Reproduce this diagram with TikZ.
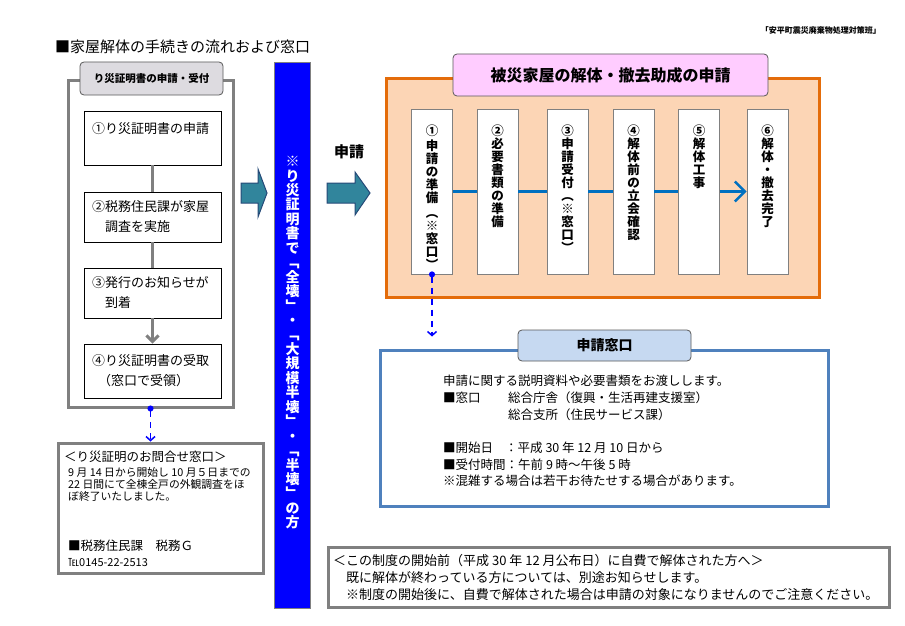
\documentclass[tikz,border=0pt]{standalone}
\usepackage{fontspec}
\setmainfont{Noto Sans CJK JP}
\usetikzlibrary{arrows.meta,positioning}
\definecolor{FrameClr}{RGB}{128,128,128}
\definecolor{HeadClr}{RGB}{221,219,224}
\definecolor{TealClr}{RGB}{49,133,156}
\definecolor{NavyClr}{RGB}{38,74,120}
\definecolor{BarClr}{RGB}{0,0,255}
\definecolor{OrangeClr}{RGB}{228,108,10}
\definecolor{PeachClr}{RGB}{252,213,181}
\definecolor{PinkClr}{RGB}{255,204,255}
\definecolor{StepLineClr}{RGB}{0,112,192}
\definecolor{WindowClr}{RGB}{79,129,189}
\definecolor{WinHeadClr}{RGB}{198,217,241}
\newcommand{\fsize}[2]{\fontsize{#1}{#2}\selectfont}

\begin{document}
\begin{tikzpicture}[x=1pt,y=-1pt,
  grayframe/.style={draw=FrameClr,line width=3pt,inner sep=0pt},
  headbox/.style={draw=black!65,rounded corners=4pt,line width=0.8pt},
  leftbox/.style={draw=black,line width=0.8pt,minimum width=137pt,text width=121pt,align=left,font=\fsize{13}{20}},
  stepbox/.style={draw=FrameClr,fill=white,line width=0.8pt,minimum width=41pt,minimum height=165pt},
  steptext/.style={align=center,inner sep=0pt,font=\bfseries\fsize{12.5}{13}},
  textline/.style={anchor=west,inner sep=0pt,align=left},
  greyline/.style={draw=FrameClr,line width=3pt},
  blueline/.style={draw=StepLineClr,line width=2.5pt},
  dashline/.style={draw=BarClr,line width=1.5pt,dash pattern=on 6pt off 5pt,shorten <=-3pt,
    {Circle[length=6pt]}-{Straight Barb[length=4pt,width=9pt]}},
  blockarrow/.style={fill=TealClr,draw=NavyClr,line width=1pt,line join=miter}]
\useasboundingbox (0,0) rectangle (905,626);

\node[textline,font=\fsize{15}{17}] (title) at (55,47) {■家屋解体の手続きの流れおよび窓口};
\node[anchor=east,inner sep=0pt,font=\bfseries\fsize{8}{9}] (team) at (881,30) {「安平町震災廃棄物処理対策班」};

% left column
\node[grayframe,minimum width=165pt,minimum height=326pt] (leftframe) at (150.5,244) {};
\node[headbox,fill=HeadClr,minimum width=143pt,minimum height=33pt,font=\bfseries\fsize{10.5}{12}] (lefthead) at (151.5,78.5) {り災証明書の申請・受付};

\node[leftbox,minimum height=54pt] (b1) at (152.5,138) {①り災証明書の申請\\\mbox{}};
\node[leftbox,minimum height=50pt] (b2) at (152.5,217) {②税務住民課が家屋\\　調査を実施};
\node[leftbox,minimum height=50pt] (b3) at (152.5,293) {③発行のお知らせが\\　到着};
\node[leftbox,minimum height=54pt] (b4) at (152.5,371) {④り災証明書の受取\\\hspace{6pt}（窓口で受領）};

\draw[greyline] (b1) -- (b2);
\draw[greyline] (b2) -- (b3);
\draw[greyline,-{Straight Barb[length=6pt,width=12pt]}] (b3) -- (b4);

\node[grayframe,minimum width=205pt,minimum height=130pt] (infobox) at (160.5,508) {};
\draw[dashline] (leftframe.south) -- (leftframe.south |- infobox.north);
\node[textline,font=\fsize{12.5}{15}] (infotitle) at (64,457) {＜り災証明のお問合せ窓口＞};
\node[textline,font=\fsize{10.8}{11.7}] (infotext) at (68,484.5) {9 月 14 日から開始し 10 月５日までの\\22 日間にて全棟全戸の外観調査をほ\\ぼ終了いたしました。};
\node[textline,font=\fsize{12.5}{15}] (infodept) at (68,546) {■税務住民課　税務Ｇ};
\node[textline,font=\fsize{11}{13}] (infotel) at (68,563) {℡0145-22-2513};

% arrows and bar
\filldraw[blockarrow] (241,183) -- (258,183) -- (258,169) -- (267,193) -- (258,217) -- (258,203) -- (241,203) -- cycle;
\node[draw=FrameClr,fill=BarClr,line width=0.6pt,minimum width=36pt,minimum height=546pt] (bar) at (292.5,335) {};
\node[anchor=north,align=center,inner sep=0pt,text=white,font=\bfseries\fsize{14}{14.45}] (bartext) at (292.5,156)
  {※\\り\\災\\証\\明\\書\\で\\﹁\\全\\壊\\﹂\\・\\﹁\\大\\規\\模\\半\\壊\\﹂\\・\\﹁\\半\\壊\\﹂\\の\\方};

\node[font=\bfseries\fsize{15}{15}] (applylabel) at (349,152) {申請};
\filldraw[blockarrow] (327,183) -- (355,183) -- (355,172) -- (370,193) -- (355,215) -- (355,203) -- (327,203) -- cycle;

% application steps
\node[draw=OrangeClr,fill=PeachClr,line width=3pt,minimum width=433pt,minimum height=218pt] (orange) at (602.5,188) {};
\node[headbox,fill=PinkClr,minimum width=315pt,minimum height=42pt,font=\bfseries\fsize{16}{18}] (pinkhead) at (610.5,75) {被災家屋の解体・撤去助成の申請};

\node[stepbox] (s1) at (432,191.5) {};
\node[stepbox] (s2) at (497.5,191.5) {};
\node[stepbox] (s3) at (567.5,191.5) {};
\node[stepbox] (s4) at (633.5,191.5) {};
\node[stepbox] (s5) at (699,191.5) {};
\node[stepbox] (s6) at (767.5,191.5) {};

\draw[blueline] (s1) -- (s2);
\draw[blueline] (s2) -- (s3);
\draw[blueline] (s3) -- (s4);
\draw[blueline] (s4) -- (s5);
\draw[blueline,-{Straight Barb[length=10pt,width=20pt]}] (s5) -- (s6);

\node[steptext,below=16pt of s1.north] (t1) {①\\[2pt]申\\請\\の\\準\\備\\[2pt]︵\\※\\窓\\口\\︶};
\node[steptext,below=16pt of s2.north] (t2) {②\\必\\要\\書\\類\\の\\準\\備};
\node[steptext,below=16pt of s3.north] (t3) {③\\申\\請\\受\\付\\︵\\※\\窓\\口\\︶};
\node[steptext,below=16pt of s4.north] (t4) {④\\解\\体\\前\\の\\立\\会\\確\\認};
\node[steptext,below=16pt of s5.north] (t5) {⑤\\解\\体\\工\\事};
\node[steptext,below=16pt of s6.north] (t6) {⑥\\解\\体\\・\\撤\\去\\完\\了};

% window
\node[draw=WindowClr,line width=3pt,minimum width=448pt,minimum height=156pt] (window) at (604,428) {};
\node[headbox,fill=WinHeadClr,minimum width=173pt,minimum height=31pt,font=\bfseries\fsize{14}{16}] (winhead) at (604.5,345.5) {申請窓口};
\draw[dashline,shorten >=12pt] (s1.south) -- (s1.south |- window.north);

\node[anchor=north west,inner sep=0pt,align=left,font=\fsize{12.5}{16.7}] (wintext) at (443,375) {申請に関する説明資料や必要書類をお渡しします。\\
\makebox[65pt][l]{■窓口}総合庁舎（復興・生活再建支援室）\\
\hspace{65pt}総合支所（住民サービス課）\\
\mbox{}\\
■開始日\hspace{12pt}：平成 30 年 12 月 10 日から\\
■受付時間：午前 9 時～午後 5 時\\
※混雑する場合は若干お待たせする場合があります。};

% notice
\node[grayframe,minimum width=561pt,minimum height=60pt] (notice) at (608.5,577) {};
\node[textline,font=\fsize{13}{17}] (noticetext) at (333,577) {＜この制度の開始前（平成 30 年 12 月公布日）に自費で解体された方へ＞\\
　既に解体が終わっている方については、別途お知らせします。\\
　※制度の開始後に、自費で解体された場合は申請の対象になりませんのでご注意ください。};

\end{tikzpicture}
\end{document}
